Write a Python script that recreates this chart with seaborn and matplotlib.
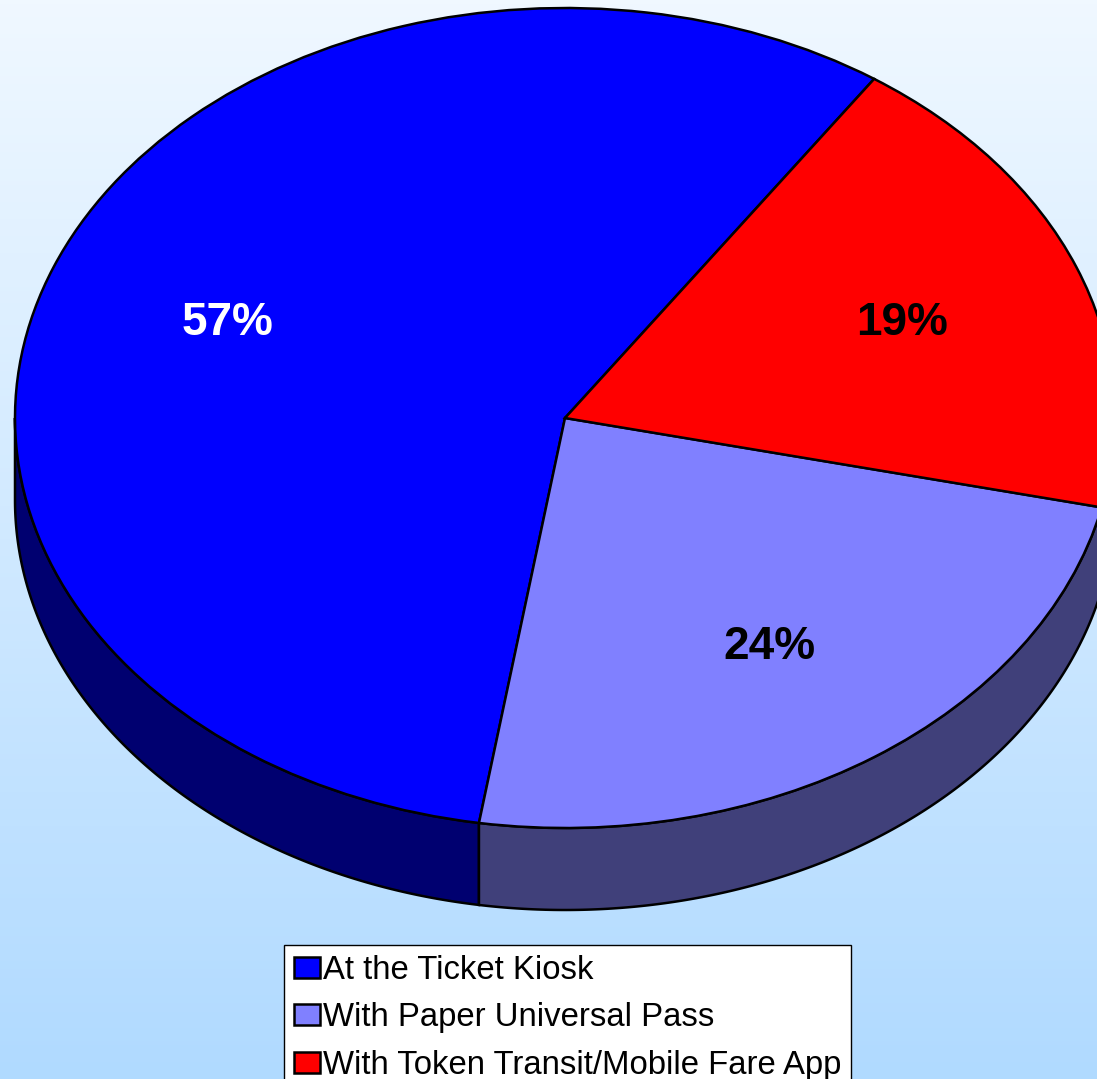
import numpy as np
import matplotlib
matplotlib.use("Agg")
import matplotlib.pyplot as plt
from matplotlib.patches import Polygon, Patch
from matplotlib.colors import LinearSegmentedColormap
import seaborn as sns

# Where riders bought their fare
categories = ["At the Ticket Kiosk", "With Paper Universal Pass",
              "With Token Transit/Mobile Fare App"]
shares = [57, 24, 19]
top_colors = ["#0000FF", "#8080FF", "#FF0000"]
side_colors = ["#000070", "#40407A", "#800000"]
label_colors = ["white", "black", "black"]

sns.set_theme(style="white")
plt.rcParams["font.family"] = ["Liberation Sans", "DejaVu Sans"]
plt.rcParams["text.color"] = "black"

W, H, DPI = 1097, 1079, 100
fig = plt.figure(figsize=(W / DPI, H / DPI), dpi=DPI)

# sky gradient backdrop
bg = fig.add_axes([0, 0, 1, 1], zorder=0)
grad = np.linspace(0, 1, 256).reshape(-1, 1)
sky = LinearSegmentedColormap.from_list("sky", ["#F0F8FF", "#B0DAFF"])
bg.imshow(grad, aspect="auto", cmap=sky, extent=[0, 1, 0, 1], origin="upper")
bg.set_axis_off()

# pie axes: unit circle squashed into a tilted ellipse
cx, cy, rx, ry, depth = 565, 418, 550, 410, 82
ax = fig.add_axes([0, 0, 1, 1], zorder=1)
ax.patch.set_alpha(0)

wedges, texts, autotexts = ax.pie(
    shares, colors=top_colors, startangle=55.8, counterclock=True,
    autopct="%.0f%%", pctdistance=0.66,
    wedgeprops=dict(edgecolor="black", linewidth=1.8),
)
for t, c in zip(autotexts, label_colors):
    t.set_color(c)
    t.set_fontsize(33)
    t.set_fontweight("bold")
    t.set_verticalalignment("center_baseline")

# side wall of the front half of the disc
d = depth / ry
for w, sc in zip(wedges, side_colors):
    for lo_lim, hi_lim in ((180, 360), (540, 720)):
        lo, hi = max(w.theta1, lo_lim), min(w.theta2, hi_lim)
        if hi <= lo:
            continue
        t = np.radians(np.linspace(lo, hi, 200))
        top = np.column_stack([np.cos(t), np.sin(t)])
        bot = np.column_stack([np.cos(t[::-1]), np.sin(t[::-1]) - d])
        ax.add_patch(Polygon(np.vstack([top, bot]), closed=True,
                             facecolor=sc, edgecolor="black",
                             linewidth=1.8, zorder=0.5))

ax.set_aspect("auto")
ax.set_xlim((0 - cx) / rx, (W - cx) / rx)
ax.set_ylim((cy - H) / ry, (cy - 0) / ry)
ax.set_axis_off()

handles = [Patch(facecolor=c, edgecolor="black", linewidth=1.8) for c in top_colors]
leg = fig.legend(
    handles, categories, loc="upper left",
    bbox_to_anchor=(284 / W, 1 - 945 / H), borderaxespad=0,
    fontsize=23.7, frameon=True, fancybox=False, framealpha=1,
    edgecolor="black", facecolor="white", labelcolor="black",
    handlelength=0.8, handleheight=0.6, handletextpad=0.08,
    labelspacing=0.5, borderpad=0.3,
)
leg.get_frame().set_linewidth(1.0)
leg.set_zorder(3)

fig.savefig("out.png", dpi=DPI)
